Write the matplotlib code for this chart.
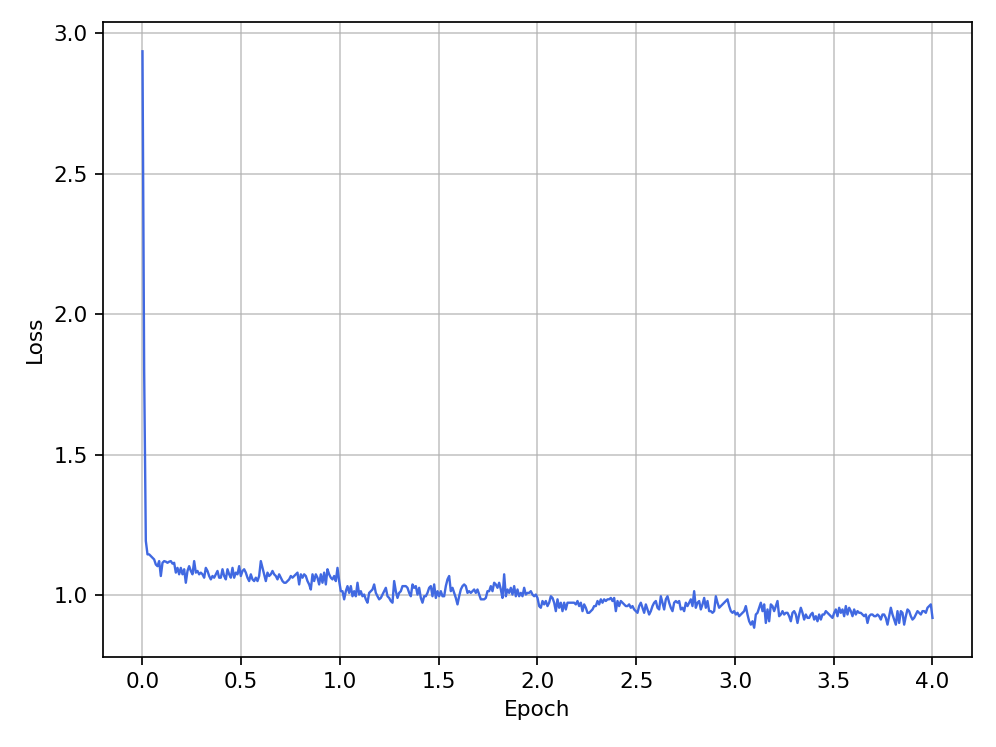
import numpy as np
import matplotlib
matplotlib.use("Agg")
import matplotlib.pyplot as plt

start_loss = [2.935, 1.80]

loss_seg1 = [
    1.193, 1.145, 1.145, 1.139, 1.133, 1.127, 1.109, 1.103, 1.121, 1.068, 1.115, 1.121, 1.119, 1.115, 1.119, 1.121,
    1.112, 1.115, 1.080, 1.097, 1.074, 1.097, 1.074, 1.092, 1.044, 1.086, 1.103, 1.086, 1.074, 1.121, 1.080, 1.086,
    1.074, 1.080, 1.074, 1.062, 1.097, 1.086, 1.068, 1.056, 1.068, 1.062, 1.074, 1.086, 1.062, 1.062, 1.092, 1.068,
    1.056, 1.092, 1.074, 1.062, 1.097, 1.062, 1.080, 1.074, 1.103, 1.068, 1.086, 1.092, 1.080, 1.062, 1.050, 1.074,
    1.056, 1.050, 1.062, 1.050, 1.068, 1.121, 1.097, 1.074, 1.050, 1.080, 1.068, 1.074, 1.086, 1.074, 1.068, 1.056,
    1.074, 1.062, 1.050, 1.044, 1.044, 1.050, 1.056, 1.068, 1.062, 1.068, 1.074, 1.080, 1.038, 1.074, 1.062, 1.074,
    1.068, 1.050, 1.038, 1.020, 1.074, 1.050, 1.074, 1.062, 1.038, 1.074, 1.044, 1.080, 1.038, 1.092, 1.074, 1.062,
    1.056, 1.068, 1.050, 1.097, 1.050, 1.014, 1.014,
]

loss_seg2 = [
    0.985, 1.014, 1.032, 1.008, 1.032, 0.996, 1.014, 0.996, 1.044, 1.002, 1.014, 0.996, 1.002, 0.985, 0.973, 1.008,
    1.014, 1.020, 1.038, 1.008, 0.996, 0.985, 0.990, 1.002, 1.014, 1.026, 0.996, 0.990, 0.979, 0.973, 1.050, 1.014,
    0.990, 1.008, 1.014, 1.032, 1.032, 1.032, 1.026, 1.008, 0.996, 1.038, 1.026, 1.032, 1.002, 1.026, 0.990, 0.973,
    0.996, 0.996, 1.008, 1.026, 1.032, 0.996, 1.038, 0.990, 1.014, 0.996, 1.014, 0.996, 0.996, 1.032, 1.056, 1.068,
    1.014, 1.026, 1.008, 0.990, 0.967, 0.996, 1.020, 1.032, 1.038, 1.032, 1.008, 1.014, 1.008, 1.014, 1.020, 1.008,
    1.020, 1.002, 0.985, 0.985, 0.985, 0.990, 1.014, 1.014, 1.032, 1.014, 1.044, 1.038, 1.026, 1.044, 1.020, 0.990,
    1.074, 0.996, 1.020, 1.008, 1.026, 1.002, 1.032, 0.996, 1.020, 0.996, 1.008, 0.996, 1.026, 1.002, 1.008, 1.008,
    1.014, 1.002, 0.996, 1.002, 0.990, 0.961, 0.955, 0.979,
]

loss_seg3 = [
    0.967, 0.979, 0.961, 0.973, 0.996, 0.990, 0.973, 0.943, 0.985, 0.955, 0.973, 0.943, 0.973, 0.949, 0.973, 0.973,
    0.973, 0.973, 0.973, 0.967, 0.979, 0.961, 0.973, 0.943, 0.967, 0.955, 0.937, 0.937, 0.943, 0.949, 0.961, 0.961,
    0.979, 0.967, 0.985, 0.973, 0.985, 0.979, 0.985, 0.985, 0.990, 0.979, 0.990, 0.943, 0.979, 0.961, 0.979, 0.973,
    0.967, 0.961, 0.961, 0.967, 0.955, 0.961, 0.949, 0.943, 0.937, 0.961, 0.973, 0.955, 0.937, 0.967, 0.949, 0.931,
    0.943, 0.961, 0.973, 0.979, 0.955, 0.949, 0.996, 0.973, 0.949, 0.985, 0.996, 0.973, 0.955, 0.943, 0.973, 0.979,
    0.973, 0.979, 0.949, 0.955, 0.943, 0.973, 0.961, 0.973, 0.985, 0.961, 1.014, 0.955, 0.973, 0.979, 0.949, 0.967,
    0.990, 0.955, 0.979, 0.943, 0.943, 0.937, 0.943, 0.996, 0.973, 0.955, 0.961, 0.967, 0.973, 0.979, 0.985, 0.961,
    0.943, 0.937, 0.943, 0.931, 0.937, 0.925, 0.931, 0.937,
]

loss_seg4 = [
    0.943, 0.961, 0.931, 0.907, 0.895, 0.907, 0.884, 0.931, 0.937, 0.955, 0.973, 0.943, 0.967, 0.901, 0.949, 0.907,
    0.967, 0.961, 0.943, 0.961, 0.979, 0.925, 0.931, 0.943, 0.931, 0.937, 0.937, 0.925, 0.907, 0.937, 0.943, 0.931,
    0.901, 0.931, 0.955, 0.937, 0.913, 0.931, 0.919, 0.919, 0.931, 0.937, 0.913, 0.925, 0.907, 0.931, 0.913, 0.931,
    0.931, 0.943, 0.937, 0.931, 0.925, 0.919, 0.937, 0.949, 0.925, 0.955, 0.937, 0.949, 0.925, 0.961, 0.931, 0.955,
    0.943, 0.925, 0.949, 0.931, 0.943, 0.937, 0.937, 0.931, 0.925, 0.931, 0.901, 0.925, 0.931, 0.931, 0.925, 0.925,
    0.931, 0.925, 0.913, 0.931, 0.931, 0.919, 0.895, 0.925, 0.955, 0.931, 0.913, 0.895, 0.943, 0.901, 0.943, 0.937,
    0.895, 0.925, 0.949, 0.943, 0.925, 0.913, 0.919, 0.931, 0.943, 0.937, 0.931, 0.943, 0.943, 0.937, 0.955, 0.961,
    0.967, 0.919,
]

loss = np.array(start_loss + loss_seg1 + loss_seg2 + loss_seg3 + loss_seg4)
epoch_start, epoch_end = 0.0, 4.0
epoch = np.linspace(epoch_start, epoch_end, len(loss))

fig, ax = plt.subplots(figsize=(6.4, 4.8), dpi=155.625)
fig.subplots_adjust(left=0.1034, right=0.9759, top=0.9699, bottom=0.1211)
ax.plot(epoch, loss, color="royalblue", linewidth=1.1)
ax.set_xlabel("Epoch")
ax.set_ylabel("Loss")
ax.grid(True, color="#b0b0b0", linewidth=0.8, alpha=0.7)
fig.savefig("out.png", dpi=155.625)
